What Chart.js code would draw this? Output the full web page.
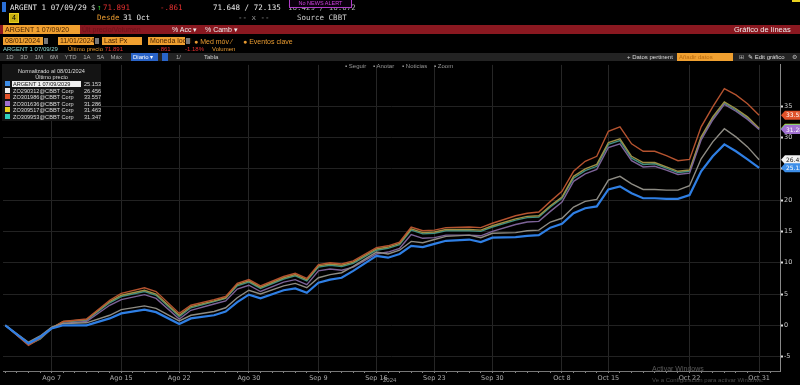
<!DOCTYPE html>
<html>
<head>
<meta charset="utf-8">
<script src="https://cdn.jsdelivr.net/npm/chart.js@4.4.1/dist/chart.umd.min.js"></script>
<style>
  body { margin:0; width:800px; height:385px; background:#000; overflow:hidden; position:relative;
         font-family:"Liberation Sans", Arial, sans-serif; }
  .a { position:absolute; white-space:nowrap; }
  .m1 { font-family:"DejaVu Sans Mono", monospace; font-size:7.5px; line-height:10px; }
  .s7 { font-size:7px; line-height:9px; }
  .s6 { font-size:6px; line-height:7px; }
  .box { background:#f0a030; color:#4a2400; padding-left:2px; box-sizing:border-box; }
  .ico { background:#777; }
  #wrap { position:absolute; left:0; top:60px; width:800px; height:325px; }
  #legend { position:absolute; left:2px; top:64px; width:99px; height:57px; background:#141414; }
  .lrow { position:absolute; left:0; height:6px; font-size:5.6px; line-height:6px; color:#ddd; }
</style>
</head>
<body>
<div id="wrap"><canvas id="chart"></canvas></div>

<!-- row 1 -->
<div class="a" style="left:2px;top:2px;width:4px;height:10px;background:#2a6fd6"></div>
<span class="a m1" style="left:10px;top:3px;color:#e8e8e8">ARGENT 1 07/09/29</span>
<span class="a m1" style="left:91px;top:3px;color:#ccc">$</span>
<span class="a m1" style="left:97px;top:3px;color:#3c3">↑</span>
<span class="a m1" style="left:103px;top:3px;color:#e53030">71.891</span>
<span class="a m1" style="left:160px;top:3px;color:#e53030">-.861</span>
<span class="a m1" style="left:213px;top:3px;color:#e8e8e8">71.648 / 72.135</span>
<span class="a m1" style="left:288px;top:3px;color:#aaa">16.429 / 16.072</span>
<div class="a" style="left:289px;top:-1px;width:61px;height:7px;border:1px solid #b03cc8;background:#0a000c;color:#d040e0;font-size:5.5px;line-height:7px;text-align:center">No NEWS ALERT</div>
<div class="a" style="left:792px;top:0;width:8px;height:2px;background:#e8d020"></div>

<!-- row 2 -->
<div class="a" style="left:9px;top:13px;width:8px;height:8px;border:1px solid #e8d020;background:#c8b010;color:#000;font-size:7px;line-height:8px;text-align:center">4</div>
<span class="a m1" style="left:97px;top:13px;color:#e89a30">Desde</span>
<span class="a m1" style="left:123px;top:13px;color:#e8e8e8">31 Oct</span>
<span class="a m1" style="left:238px;top:13px;color:#999">-- x --</span>
<span class="a m1" style="left:297px;top:13px;color:#ccc">Source CBBT</span>

<!-- row 3 red bar -->
<div class="a" style="left:0;top:25px;width:800px;height:9px;background:#8a1820"></div>
<div class="a box s7" style="left:3px;top:25px;width:77px;height:9px">ARGENT 1 07/09/20</div>
<span class="a s7" style="left:82px;top:25px;color:#6a1218">Últ precio/Volumen</span>
<span class="a s7" style="left:172px;top:25px;color:#eee">% Acc ▾</span>
<span class="a s7" style="left:205px;top:25px;color:#eee">% Camb ▾</span>
<span class="a s7" style="left:734px;top:25px;color:#eee;font-size:7.5px">Gráfico de líneas</span>

<!-- row 4 -->
<div class="a box s7" style="left:3px;top:37px;width:40px;height:8px;line-height:8px">08/01/2024</div>
<div class="a ico" style="left:44px;top:38px;width:4px;height:6px"></div>
<div class="a box s7" style="left:58px;top:37px;width:36px;height:8px;line-height:8px">11/01/2024</div>
<div class="a ico" style="left:95px;top:38px;width:4px;height:6px"></div>
<div class="a box s7" style="left:102px;top:37px;width:40px;height:8px;line-height:8px">Last Px</div>
<div class="a box s7" style="left:148px;top:37px;width:37px;height:8px;line-height:8px">Moneda local</div>
<div class="a ico" style="left:186px;top:38px;width:4px;height:6px"></div>
<span class="a s7" style="left:194px;top:37px;color:#e89a30">● Med móv ⁄</span>
<span class="a s7" style="left:243px;top:37px;color:#e89a30">● Eventos clave</span>

<!-- row 5 -->
<span class="a s6" style="left:3px;top:46px;color:#8fd8d0">ARGENT 1 07/09/29</span>
<span class="a s6" style="left:68px;top:46px;color:#e89a30">Último precio <span style="color:#e53030">71.891</span></span>
<span class="a s6" style="left:157px;top:46px;color:#e53030">-.861</span>
<span class="a s6" style="left:185px;top:46px;color:#e53030">-1.18%</span>
<span class="a s6" style="left:212px;top:46px;color:#e89a30">Volumen</span>

<!-- row 6 toolbar -->
<div class="a" style="left:0;top:53px;width:800px;height:8px;background:#232323"></div>
<span class="a s6" style="left:6px;top:54px;color:#aaa;word-spacing:5px">1D 3D 1M 6M YTD 1A 5A Máx</span>
<div class="a s6" style="left:131px;top:53px;width:27px;height:8px;background:#2a64c8;color:#fff;line-height:8px;padding-left:2px;box-sizing:border-box">Diario ▾</div>
<div class="a" style="left:162px;top:53px;width:6px;height:8px;background:#2a64c8"></div>
<span class="a s6" style="left:176px;top:54px;color:#aaa">1/</span>
<span class="a s6" style="left:204px;top:54px;color:#ccc">Tabla</span>
<span class="a s6" style="left:627px;top:54px;color:#ddd">+ Datos pertinent</span>
<div class="a s6" style="left:677px;top:53px;width:56px;height:8px;background:#f0a030;color:#b86a10;line-height:8px;padding-left:2px;box-sizing:border-box">Añadir datos</div>
<span class="a s6" style="left:739px;top:54px;color:#bbb">⊞</span>
<span class="a s6" style="left:748px;top:54px;color:#ddd">✎ Edit gráfico</span>
<span class="a s6" style="left:792px;top:54px;color:#bbb">⚙</span>

<!-- chart toolbar -->
<span class="a s6" style="left:345px;top:63px;color:#999">▪ Seguir</span>
<span class="a s6" style="left:373px;top:63px;color:#999">▪ Anotar</span>
<span class="a s6" style="left:402px;top:63px;color:#999">▪ Noticias</span>
<span class="a s6" style="left:434px;top:63px;color:#999">▪ Zoom</span>

<div id="legend">
  <div class="lrow" style="top:4px;width:99px;text-align:center">Normalizado al 08/01/2024</div>
  <div class="lrow" style="top:10px;width:99px;text-align:center">Último precio</div>
</div>

<span class="a s6" style="left:383px;top:377px;color:#999">2024</span>
<span class="a s7" style="left:652px;top:364px;color:#5a5a5a">Activar Windows</span>
<span class="a s6" style="left:652px;top:377px;color:#4a4a4a">Ve a Configuración para activar Windows.</span>

<script>
// trading-day index since 08/01/2024
const days = [0,2,3,4,5,7,9,10,12,13,15,16,18,19,20,21,22,24,25,26,27,28,29,30,32,33,34,35,36,37,38,40,41,42,44,45,46,47,48,49,50,51,52,53,54,55,56,57,58,59,60,61,62,63,64,65];

const argent = [0,-2.9,-1.9,-0.5,0,0,1.1,1.9,2.5,2.1,
  0.2,1.1,1.6,2.2,3.7,4.9,4.3,5.6,5.9,5.2,
  6.8,7.3,7.6,8.7,11.1,10.8,11.4,12.7,12.5,13.0,
  13.5,13.7,13.3,14.0,14.1,14.3,14.4,15.6,16.2,17.9,
  18.7,19.0,21.7,22.2,21.1,20.3,20.3,20.2,20.2,20.8,
  24.6,27.0,28.9,27.8,26.5,25.153];
const bondWhite = [0,-2.7,-1.7,-0.3,0.3,0.4,1.6,2.5,3.1,2.7,
  0.7,1.6,2.2,2.8,4.4,5.6,5.0,6.3,6.7,6.0,
  7.6,8.1,8.4,9.4,11.7,11.4,12.0,13.4,13.2,13.7,
  14.2,14.4,14.0,14.7,14.8,15.1,15.2,16.5,17.1,18.9,
  19.8,20.1,23.2,23.8,22.6,21.7,21.7,21.6,21.6,22.3,
  26.6,29.3,31.4,30.1,28.5,26.456];
const bondOrange = [0,-3.2,-2.1,-0.5,0.6,1.0,4.0,5.1,6.0,5.4,
  1.9,3.2,4.1,4.6,6.7,7.3,6.3,7.8,8.3,7.5,
  9.7,10.0,9.8,10.3,12.4,12.7,13.3,15.7,15.1,15.2,
  15.6,15.7,15.6,16.3,17.5,17.9,18.1,19.8,21.4,24.6,
  26.2,27.0,31.0,31.7,29.0,27.8,27.8,27.1,26.3,26.5,
  31.7,34.9,37.8,36.8,35.4,33.557];
const bondPurple = [0,-3.0,-2.0,-0.4,0.3,0.6,3.2,4.1,4.9,4.3,
  1.0,2.4,3.4,3.9,5.8,6.4,5.4,6.9,7.3,6.5,
  8.7,9.0,8.8,9.3,11.4,11.7,12.3,14.5,13.9,14.0,
  14.4,14.4,14.3,15.0,16.1,16.5,16.6,18.2,19.7,23.0,
  24.2,24.9,28.4,29.0,26.3,25.3,25.4,24.8,24.1,24.3,
  29.6,32.8,35.3,34.2,32.9,31.286];
const bondYellow = [0,-3.0,-2.1,-0.4,0.6,0.9,3.8,4.8,5.6,5.0,
  1.6,3.0,3.9,4.4,6.5,7.1,6.1,7.6,8.1,7.3,
  9.5,9.8,9.6,10.1,12.2,12.5,13.1,15.4,14.8,14.9,
  15.3,15.3,15.2,15.9,17.0,17.4,17.5,19.1,20.5,23.8,
  25.0,25.7,29.2,29.8,27.0,26.0,26.0,25.3,24.6,24.8,
  30.1,33.3,35.7,34.6,33.3,31.463];
const bondTeal = [0,-3.1,-2.2,-0.5,0.5,0.8,3.6,4.6,5.4,4.8,
  1.4,2.8,3.8,4.3,6.3,6.9,5.9,7.4,7.9,7.1,
  9.3,9.6,9.4,9.9,12.0,12.3,12.9,15.2,14.6,14.7,
  15.1,15.1,15.0,15.7,16.8,17.2,17.3,18.9,20.3,23.5,
  24.7,25.4,28.9,29.5,26.7,25.7,25.8,25.1,24.4,24.6,
  29.9,33.1,35.5,34.4,33.1,31.347];

const seriesNames = ["ARGENT 1 07/09/2029 Govt", "ZO290312@CBBT Corp", "ZO301986@CBBT Corp",
  "ZO301636@CBBT Corp", "ZO309517@CBBT Corp", "ZO309953@CBBT Corp"];
const seriesValues = [argent, bondWhite, bondOrange, bondPurple, bondYellow, bondTeal];

const tickDays = [4, 10, 15, 21, 27, 32, 37, 42, 48, 52, 59, 65];
const tickLabels = ["Ago 7", "Ago 15", "Ago 22", "Ago 30", "Sep 9", "Sep 16", "Sep 23", "Sep 30", "Oct 8", "Oct 15", "Oct 22", "Oct 31"];

const lineColors = ["#2f7fe4", "#8e8c84", "#b5532f", "#7d6398", "#9e8f45", "#3f8f80"];
const keyColors = ["#3d8ee8", "#eeeeee", "#e0522a", "#a070d0", "#e8d020", "#30d0c0"];
const tagText = ["#fff", "#222", "#fff", "#fff", "#222", "#222"];

// legend panel
const legend = document.getElementById("legend");
seriesNames.forEach((name, i) => {
    const top = 17 + i * 6.6;
    const vals = seriesValues[i];
    legend.insertAdjacentHTML("beforeend",
        `<div class="lrow" style="top:${top}px;left:3px;width:5px;height:5px;background:${keyColors[i]}"></div>` +
        `<div class="lrow" style="top:${top}px;left:10px;width:68px;padding-left:1px;${i === 0 ? "background:#eee;color:#111;" : ""}">${name}</div>` +
        `<div class="lrow" style="top:${top}px;left:82px">${vals[vals.length - 1].toFixed(3)}</div>`);
});

const lastTags = {
    id: "lastTags",
    afterDraw(chart) {
        const ctx = chart.ctx;
        const y = chart.scales.y;
        const x0 = chart.chartArea.right + 1;
        ctx.save();
        ctx.font = '6px "DejaVu Sans"';
        ctx.textBaseline = "middle";
        const order = [4, 5, 2, 3, 1, 0];
        order.forEach(i => {
            const vals = seriesValues[i];
            const v = vals[vals.length - 1];
            const py = y.getPixelForValue(v);
            ctx.fillStyle = keyColors[i] === "#eeeeee" ? "#f2f2f2" : keyColors[i];
            ctx.beginPath();
            ctx.moveTo(x0, py);
            ctx.lineTo(x0 + 4, py - 4.5);
            ctx.lineTo(800, py - 4.5);
            ctx.lineTo(800, py + 4.5);
            ctx.lineTo(x0 + 4, py + 4.5);
            ctx.closePath();
            ctx.fill();
            ctx.fillStyle = tagText[i];
            ctx.fillText(v.toFixed(3), x0 + 5, py + 0.5);
        });
        ctx.restore();
    }
};

new Chart(document.getElementById("chart"), {
    type: "line",
    data: {
        datasets: seriesValues.map((vals, i) => ({
            label: seriesNames[i],
            data: vals.map((v, k) => ({ x: days[k], y: v })),
            borderColor: lineColors[i],
            borderWidth: i === 0 ? 2.2 : 1.4,
            pointRadius: 0,
            tension: 0,
            fill: false
        }))
    },
    options: {
        responsive: true,
        maintainAspectRatio: false,
        animation: false,
        layout: { padding: { top: 3, left: 3, right: 0, bottom: 0 } },
        plugins: { legend: { display: false }, tooltip: { enabled: false } },
        scales: {
            x: {
                type: "linear",
                min: -0.2,
                max: 66.8,
                afterBuildTicks: scale => {
                    scale.ticks = [];
                    for (let d = 0; d <= 66; d++) scale.ticks.push({ value: d });
                },
                afterFit: scale => { scale.height = 14; },
                ticks: {
                    autoSkip: false,
                    maxRotation: 0,
                    color: "#aaa",
                    font: { size: 6.5, family: "DejaVu Sans" },
                    padding: 1,
                    callback: value => {
                        const k = tickDays.indexOf(value);
                        return k >= 0 ? tickLabels[k] : "";
                    }
                },
                grid: {
                    color: ctx => tickDays.includes(ctx.tick && ctx.tick.value) ? "#262626" : "transparent",
                    tickColor: "#888",
                    tickLength: 2
                },
                border: { color: "#777" }
            },
            y: {
                position: "right",
                min: -7.3,
                max: 41.6,
                afterBuildTicks: scale => {
                    scale.ticks = [];
                    for (let v = -5; v <= 35; v += 5) scale.ticks.push({ value: v });
                },
                afterFit: scale => { scale.width = 20; },
                ticks: {
                    color: "#ccc",
                    font: { size: 6.5, family: "DejaVu Sans" },
                    padding: 1
                },
                grid: {
                    color: "#222",
                    tickColor: "#ddd",
                    tickLength: 3,
                    tickWidth: 2
                },
                border: { color: "#888" }
            }
        }
    },
    plugins: [lastTags]
});
</script>
</body>
</html>
